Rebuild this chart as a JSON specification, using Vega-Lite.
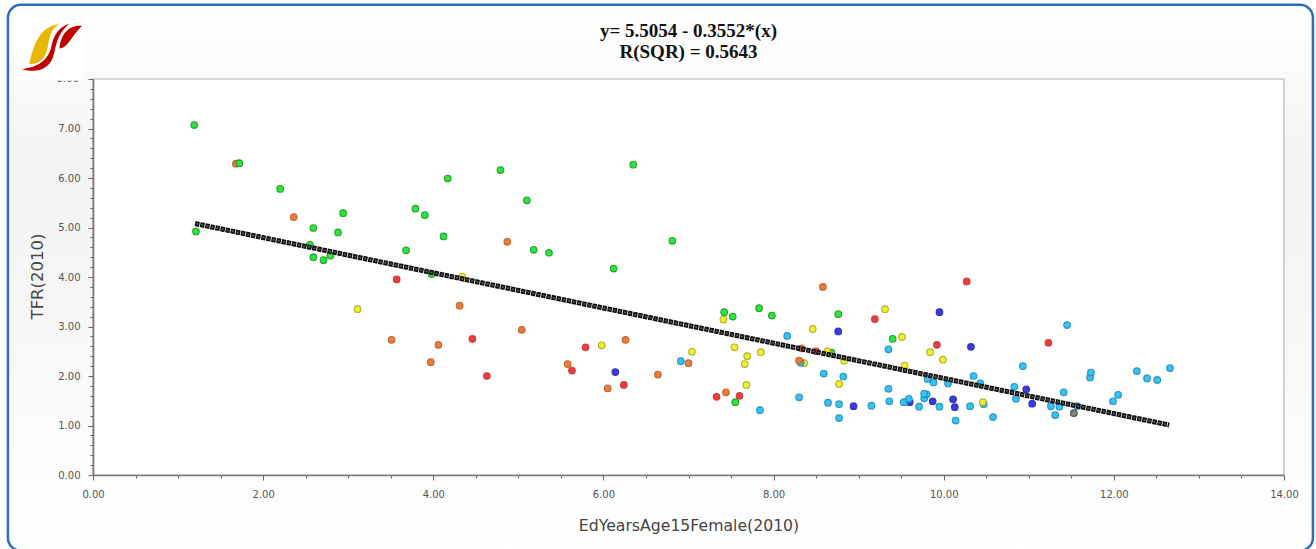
{"$schema":"https://vega.github.io/schema/vega-lite/v6.json","width":1191,"height":396,"autosize":"none","padding":{"left":93,"top":79,"right":32,"bottom":74},"background":"#ffffff","config":{"view":{"stroke":null}},
"title":{"text":["y= 5.5054 - 0.3552*(x)","R(SQR) = 0.5643"],"font":"Liberation Serif","fontSize":19,"fontWeight":"bold","lineHeight":21,"offset":-58,"color":"#111111","anchor":"middle"},
"datasets":{"points":[
{"x":1.19,"y":7.07,"c":"g"},{"x":1.68,"y":6.29,"c":"o"},{"x":1.72,"y":6.3,"c":"g"},{"x":2.2,"y":5.78,"c":"g"},{"x":2.94,"y":5.29,"c":"g"},{"x":2.59,"y":4.99,"c":"g"},{"x":2.88,"y":4.9,"c":"g"},{"x":1.21,"y":4.92,"c":"g"},{"x":2.55,"y":4.65,"c":"g"},{"x":2.59,"y":4.4,"c":"g"},{"x":2.71,"y":4.34,"c":"g"},{"x":2.79,"y":4.43,"c":"g"},{"x":3.68,"y":4.54,"c":"g"},{"x":3.79,"y":5.38,"c":"g"},{"x":3.9,"y":5.25,"c":"g"},{"x":4.12,"y":4.82,"c":"g"},{"x":4.17,"y":5.99,"c":"g"},{"x":3.98,"y":4.06,"c":"g"},{"x":2.36,"y":5.21,"c":"o"},{"x":3.57,"y":3.95,"c":"r"},{"x":4.34,"y":4.01,"c":"y"},
{"x":4.79,"y":6.16,"c":"g"},{"x":6.35,"y":6.27,"c":"g"},{"x":5.1,"y":5.55,"c":"g"},{"x":5.18,"y":4.55,"c":"g"},{"x":5.36,"y":4.49,"c":"g"},{"x":6.12,"y":4.17,"c":"g"},{"x":6.81,"y":4.73,"c":"g"},{"x":4.87,"y":4.71,"c":"o"},
{"x":3.11,"y":3.35,"c":"y"},{"x":4.31,"y":3.42,"c":"o"},{"x":3.51,"y":2.73,"c":"o"},{"x":4.06,"y":2.63,"c":"o"},{"x":3.97,"y":2.28,"c":"o"},{"x":4.46,"y":2.75,"c":"r"},{"x":4.63,"y":2.0,"c":"r"},{"x":5.04,"y":2.93,"c":"o"},{"x":5.79,"y":2.58,"c":"r"},{"x":5.98,"y":2.62,"c":"y"},{"x":6.26,"y":2.73,"c":"o"},{"x":5.58,"y":2.24,"c":"o"},{"x":5.63,"y":2.11,"c":"r"},{"x":6.14,"y":2.08,"c":"b"},{"x":6.64,"y":2.03,"c":"o"},{"x":6.24,"y":1.82,"c":"r"},{"x":6.05,"y":1.75,"c":"o"},{"x":6.91,"y":2.3,"c":"c"},{"x":7.0,"y":2.26,"c":"o"},{"x":7.04,"y":2.49,"c":"y"},
{"x":8.58,"y":3.8,"c":"o"},{"x":10.27,"y":3.91,"c":"r"},{"x":7.41,"y":3.14,"c":"y"},{"x":7.42,"y":3.29,"c":"g"},{"x":7.52,"y":3.2,"c":"g"},{"x":7.83,"y":3.37,"c":"g"},{"x":7.98,"y":3.22,"c":"g"},{"x":8.76,"y":3.25,"c":"g"},{"x":8.46,"y":2.95,"c":"y"},{"x":8.76,"y":2.9,"c":"b"},{"x":9.19,"y":3.15,"c":"r"},{"x":9.31,"y":3.35,"c":"y"},{"x":9.95,"y":3.29,"c":"b"},{"x":8.16,"y":2.81,"c":"c"},{"x":9.4,"y":2.75,"c":"g"},{"x":9.51,"y":2.79,"c":"y"},{"x":9.35,"y":2.54,"c":"c"},{"x":9.92,"y":2.63,"c":"r"},{"x":10.32,"y":2.59,"c":"b"},{"x":9.84,"y":2.48,"c":"y"},{"x":9.99,"y":2.33,"c":"y"},{"x":7.54,"y":2.58,"c":"y"},{"x":7.69,"y":2.4,"c":"y"},{"x":7.85,"y":2.48,"c":"y"},{"x":7.66,"y":2.24,"c":"y"},{"x":7.68,"y":1.82,"c":"y"},{"x":8.33,"y":2.56,"c":"o"},{"x":8.5,"y":2.5,"c":"r"},{"x":8.63,"y":2.5,"c":"y"},{"x":8.68,"y":2.47,"c":"g"},{"x":8.36,"y":2.26,"c":"y"},{"x":8.32,"y":2.27,"c":"c"},{"x":8.3,"y":2.31,"c":"o"},{"x":8.83,"y":2.31,"c":"y"},{"x":9.54,"y":2.21,"c":"y"},{"x":10.93,"y":2.2,"c":"c"},{"x":10.35,"y":2.0,"c":"c"},{"x":8.59,"y":2.05,"c":"c"},{"x":8.82,"y":1.99,"c":"c"},{"x":8.77,"y":1.84,"c":"y"},{"x":9.81,"y":1.94,"c":"c"},{"x":9.88,"y":1.87,"c":"c"},{"x":10.05,"y":1.85,"c":"c"},{"x":10.43,"y":1.85,"c":"c"},{"x":10.83,"y":1.78,"c":"c"},{"x":10.97,"y":1.73,"c":"b"},{"x":10.85,"y":1.54,"c":"c"},{"x":11.04,"y":1.44,"c":"b"},{"x":9.35,"y":1.74,"c":"c"},{"x":8.3,"y":1.57,"c":"c"},{"x":7.33,"y":1.58,"c":"r"},{"x":7.44,"y":1.67,"c":"o"},{"x":7.6,"y":1.6,"c":"r"},{"x":7.55,"y":1.47,"c":"g"},{"x":7.84,"y":1.31,"c":"c"},{"x":8.64,"y":1.46,"c":"c"},{"x":8.77,"y":1.43,"c":"c"},{"x":8.77,"y":1.15,"c":"c"},{"x":8.94,"y":1.39,"c":"b"},{"x":9.15,"y":1.4,"c":"c"},{"x":9.36,"y":1.49,"c":"c"},{"x":9.6,"y":1.47,"c":"b"},{"x":9.53,"y":1.47,"c":"c"},{"x":9.59,"y":1.54,"c":"c"},{"x":9.71,"y":1.38,"c":"c"},{"x":9.77,"y":1.64,"c":"c"},{"x":9.8,"y":1.63,"c":"c"},{"x":9.77,"y":1.55,"c":"c"},{"x":9.87,"y":1.49,"c":"b"},{"x":9.95,"y":1.38,"c":"c"},{"x":10.11,"y":1.53,"c":"b"},{"x":10.13,"y":1.37,"c":"b"},{"x":10.14,"y":1.1,"c":"c"},{"x":10.31,"y":1.39,"c":"c"},{"x":10.46,"y":1.47,"c":"y"},{"x":10.47,"y":1.43,"c":"c"},{"x":10.58,"y":1.17,"c":"c"},
{"x":11.45,"y":3.03,"c":"c"},{"x":11.23,"y":2.67,"c":"r"},{"x":11.41,"y":1.67,"c":"c"},{"x":11.26,"y":1.39,"c":"c"},{"x":11.36,"y":1.38,"c":"c"},{"x":11.31,"y":1.21,"c":"c"},{"x":11.57,"y":1.39,"c":"c"},{"x":11.53,"y":1.25,"c":"k"},{"x":11.73,"y":2.07,"c":"c"},{"x":11.72,"y":1.97,"c":"c"},{"x":12.05,"y":1.62,"c":"c"},{"x":11.99,"y":1.49,"c":"c"},{"x":12.27,"y":2.1,"c":"c"},{"x":12.39,"y":1.95,"c":"c"},{"x":12.51,"y":1.92,"c":"c"},{"x":12.66,"y":2.16,"c":"c"}
],"fit":[{"x":1.2,"y":5.08},{"x":12.65,"y":1.01}],"one":[{"part":"decor"}]},
"layer":[
{"data":{"name":"one"},"mark":{"type":"rect","clip":false,"cornerRadius":13,"stroke":"#2a6ebb","strokeWidth":2.5,"fill":{"gradient":"linear","x1":0,"y1":0,"x2":0,"y2":1,"stops":[{"offset":0,"color":"#ffffff"},{"offset":0.3,"color":"#f3f3f3"},{"offset":0.65,"color":"#f8f8f8"},{"offset":1,"color":"#ffffff"}]}},"encoding":{
"x":{"datum":-1.0,"type":"quantitative","scale":{"domain":[0,14],"nice":false,"zero":false},"axis":{"title":"EdYearsAge15Female(2010)","zindex":1,"grid":false,"tickCount":60,"values":[0,0.5,1,1.5,2,2.5,3,3.5,4,4.5,5,5.5,6,6.5,7,7.5,8,8.5,9,9.5,10,10.5,11,11.5,12,12.5,13,13.5,14],"labelExpr":"datum.value % 2 == 0 ? format(datum.value,'.2f') : ''","labelOverlap":false,"labelFlush":false,"labelFont":"DejaVu Sans","labelFontSize":10,"labelColor":"#555555","labelPadding":9,"domainColor":"#777777","domainWidth":1.6,"tickColor":"#666666","tickSize":{"condition":{"test":"datum.value % 2 == 0","value":5},"value":3},"titleFont":"DejaVu Sans","titleFontSize":15.7,"titleFontWeight":"normal","titleColor":"#444444","titleX":595.5,"titleY":50,"titleAnchor":"middle","titleBaseline":"middle"}},
"x2":{"datum":14.34},
"y":{"datum":9.5,"type":"quantitative","scale":{"domain":[0,8],"nice":false,"zero":false},"axis":{"title":"TFR(2010)","zindex":1,"grid":false,"tickCount":60,"values":[0,0.2,0.4,0.6,0.8,1,1.2,1.4,1.6,1.8,2,2.2,2.4,2.6,2.8,3,3.2,3.4,3.6,3.8,4,4.2,4.4,4.6,4.8,5,5.2,5.4,5.6,5.8,6,6.2,6.4,6.6,6.8,7,7.2,7.4,7.6,7.8,8],"labelExpr":"abs(datum.value-round(datum.value))<0.001 && datum.value<7.9 ? format(datum.value,'.2f') : ''","labelOverlap":false,"labelFlush":false,"labelFont":"DejaVu Sans","labelFontSize":10,"labelColor":"#555555","labelPadding":8,"domainColor":"#777777","domainWidth":1.6,"tickColor":"#666666","tickSize":{"condition":{"test":"abs(datum.value-round(datum.value))<0.001","value":5},"value":3},"titleFont":"DejaVu Sans","titleFontSize":16.5,"titleFontWeight":"normal","titleColor":"#444444","titleX":-56,"titleY":197,"titleAnchor":"middle","titleBaseline":"middle"}},
"y2":{"datum":-1.53}}},
{"data":{"name":"one"},"mark":{"type":"rect","fill":"#ffffff","stroke":"#b4b4b4","strokeWidth":1.2},"encoding":{"x":{"datum":0,"type":"quantitative","scale":{"domain":[0,14],"nice":false,"zero":false}},"x2":{"datum":14},"y":{"datum":0,"type":"quantitative","scale":{"domain":[0,8],"nice":false,"zero":false}},"y2":{"datum":8}}},
{"data":{"name":"one"},"mark":{"type":"text","text":"8.00","align":"right","baseline":"middle","dx":-14,"font":"DejaVu Sans","fontSize":10,"fill":"#555555"},"encoding":{"x":{"datum":0,"type":"quantitative","scale":{"domain":[0,14],"nice":false,"zero":false}},"y":{"datum":8,"type":"quantitative","scale":{"domain":[0,8],"nice":false,"zero":false}}}},
{"data":{"name":"one"},"mark":{"type":"rect","fill":"#ffffff","clip":false},"encoding":{"x":{"datum":-0.905,"type":"quantitative","scale":{"domain":[0,14],"nice":false,"zero":false}},"x2":{"datum":-0.106},"y":{"datum":9.33,"type":"quantitative","scale":{"domain":[0,8],"nice":false,"zero":false}},"y2":{"datum":7.97}}},
{"data":{"name":"one"},"mark":{"type":"point","filled":true,"opacity":1,"size":2178,"fill":"#e8b800","stroke":null,"shape":"M.29 -.97C-.2 -.9 -.7 -.6 -.96 .74C-.5 .75 -.25 .5 -.15 -.1C-.1 -.5 0 -.75 .29 -.97Z"},"encoding":{"x":{"datum":-0.485,"type":"quantitative","scale":{"domain":[0,14],"nice":false,"zero":false}},"y":{"datum":8.65,"type":"quantitative","scale":{"domain":[0,8],"nice":false,"zero":false}}}},
{"data":{"name":"one"},"mark":{"type":"point","filled":true,"opacity":1,"size":2178,"fill":"#c00000","stroke":null,"shape":"M1.29 -.89C.9 -.95 .4 -.7 .33 .07C.7 .05 .8 -.4 1.29 -.89Z M.76 -1C.35 -.85 .1 -.6 -.02 0C-.1 .4 -.4 .85 -1.27 .96C-.6 1.15 -.05 .95 .1 .3C.2 -.2 .3 -.6 .76 -1Z"},"encoding":{"x":{"datum":-0.485,"type":"quantitative","scale":{"domain":[0,14],"nice":false,"zero":false}},"y":{"datum":8.65,"type":"quantitative","scale":{"domain":[0,8],"nice":false,"zero":false}}}},
{"data":{"name":"points"},"mark":{"type":"point","shape":"circle","filled":true,"opacity":1,"size":44,"strokeWidth":1.1,"strokeOpacity":0.9},"encoding":{
"x":{"field":"x","type":"quantitative","scale":{"domain":[0,14],"nice":false,"zero":false}},
"y":{"field":"y","type":"quantitative","scale":{"domain":[0,8],"nice":false,"zero":false}},
"fill":{"field":"c","type":"nominal","legend":null,"scale":{"domain":["g","o","r","y","b","c","k"],"range":["#2ee63a","#f07a3a","#f03c3c","#f2f02a","#3a3ae6","#38c4f2","#808080"]}},
"stroke":{"field":"c","type":"nominal","legend":null,"scale":{"domain":["g","o","r","y","b","c","k"],"range":["#1c9a2a","#b0602a","#c03a3a","#a8a820","#2a2aa8","#1c8cc0","#444444"]}},
"order":{"field":"y","type":"quantitative"}}},
{"data":{"name":"fit"},"mark":{"type":"line","color":"#0c0c0c","strokeWidth":5,"strokeDash":[4.4,0.8]},"encoding":{"x":{"field":"x","type":"quantitative","scale":{"domain":[0,14],"nice":false,"zero":false}},"y":{"field":"y","type":"quantitative","scale":{"domain":[0,8],"nice":false,"zero":false}}}},
{"data":{"name":"fit"},"mark":{"type":"line","color":"#5a5a5a","strokeWidth":1.8,"strokeDash":[2,3.2],"strokeDashOffset":-1.2},"encoding":{"x":{"field":"x","type":"quantitative","scale":{"domain":[0,14],"nice":false,"zero":false}},"y":{"field":"y","type":"quantitative","scale":{"domain":[0,8],"nice":false,"zero":false}}}}
]}
